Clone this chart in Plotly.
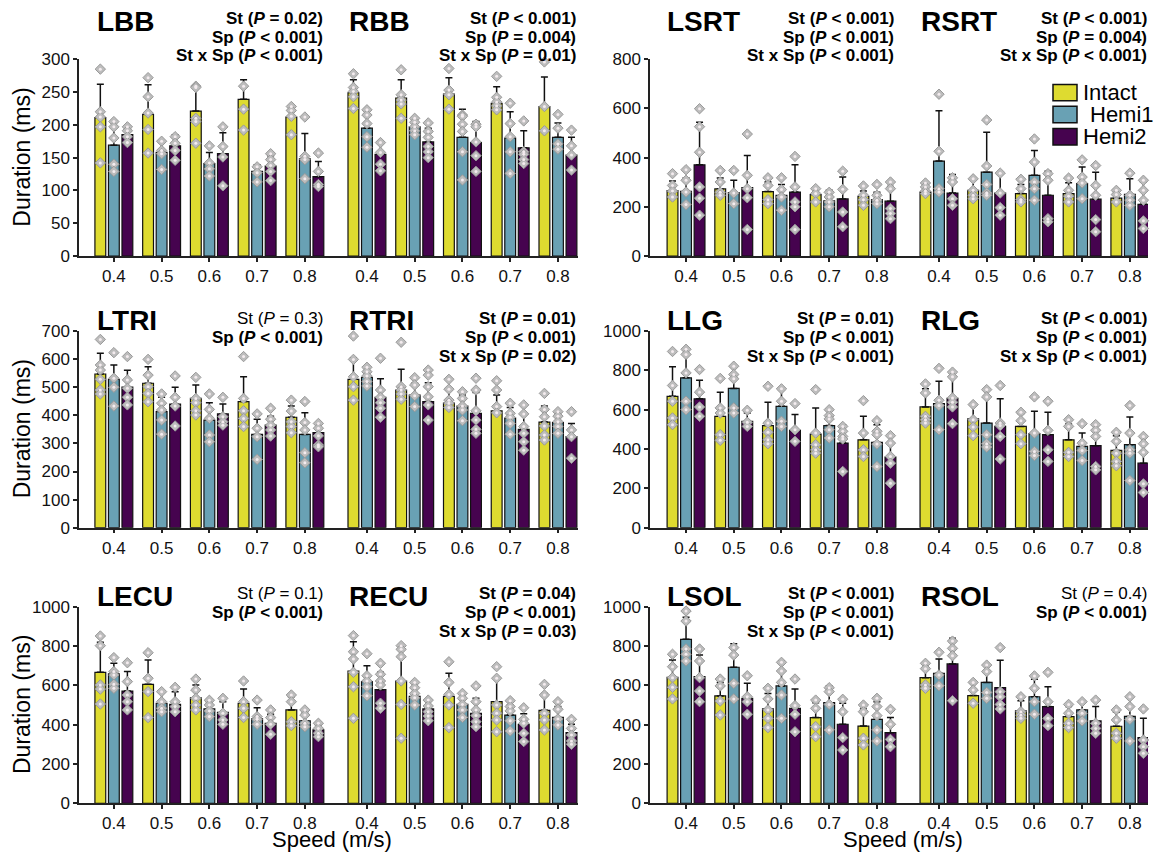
import plotly.graph_objects as go

SPEEDS = ["0.4", "0.5", "0.6", "0.7", "0.8"]
GROUPS = ["Intact", "Hemi1", "Hemi2"]
COLORS = ["#dedb30", "#69a1b4", "#46034f"]

# ---------------- data: [Intact, Hemi1, Hemi2] x speeds 0.4..0.8 ----------------
LBB_MEAN = [[211, 216, 221, 239, 212], [169, 158, 141, 129, 148], [185, 168, 156, 137, 121]]
LBB_SD = [[51, 45, 37, 30, 17], [35, 15, 17, 10, 39], [13, 17, 32, 16, 23]]
LBB_PTS = [
    [[285, 220, 212, 197, 142], [272, 243, 218, 193, 157], [259, 257, 210, 205, 172], [259, 224, 192], [228, 222, 213, 185]],
    [[205, 197, 180, 140, 129], [175, 161, 156, 132], [168, 142, 133, 122], [136, 127, 113], [212, 152, 147, 118]],
    [[197, 191, 182, 173], [182, 172, 161, 146], [197, 167, 151, 107], [156, 147, 138, 129, 115], [157, 129, 109, 106]],
]
RBB_MEAN = [[249, 241, 247, 233, 228], [195, 197, 181, 180, 181], [155, 174, 173, 165, 154]]
RBB_SD = [[20, 28, 25, 25, 45], [21, 12, 43, 40, 22], [19, 21, 32, 26, 27]]
RBB_PTS = [
    [[278, 257, 251, 243, 225], [284, 246, 238, 232, 210], [286, 253, 246, 224], [274, 242, 235, 229, 223], [296, 228, 191]],
    [[223, 215, 202, 182, 166], [210, 204, 197, 191, 185], [215, 213, 201, 190, 159, 116], [233, 202, 182, 159, 126], [216, 195, 171, 163]],
    [[173, 158, 140, 130], [203, 190, 181, 167, 159, 150], [201, 197, 174, 153, 129], [206, 159, 155, 147, 141], [192, 168, 154, 131]],
]
LSRT_MEAN = [[266, 273, 262, 250, 243], [263, 258, 247, 224, 229], [371, 278, 260, 232, 223]]
LSRT_SD = [[39, 44, 39, 24, 21], [54, 50, 44, 43, 30], [173, 131, 111, 89, 60]]
LSRT_PTS = [
    [[335, 287, 264, 240], [348, 301, 259, 247], [318, 287, 229, 213], [274, 254, 220], [285, 247, 229, 206]],
    [[351, 308, 260, 209], [348, 256, 213], [318, 270, 240, 186], [259, 240, 220, 200], [291, 247, 227, 213]],
    [[599, 526, 422, 281, 235, 166], [496, 328, 274, 237, 108], [405, 281, 220, 200, 108], [345, 271, 179, 119], [301, 274, 193, 173, 152]],
]
RSRT_MEAN = [[260, 267, 254, 254, 235], [386, 341, 328, 294, 251], [256, 256, 247, 231, 210]]
RSRT_SD = [[37, 43, 37, 44, 35], [205, 162, 101, 68, 63], [75, 81, 98, 110, 91]]
RSRT_PTS = [
    [[297, 281, 264, 254], [314, 267, 247, 233], [312, 274, 229, 220], [317, 267, 243, 220], [267, 250, 220]],
    [[658, 426, 274, 260], [553, 366, 291, 256, 247], [476, 382, 301, 274, 227], [391, 321, 297, 233], [337, 247, 227, 206]],
    [[318, 301, 233, 206], [337, 256, 197, 166], [335, 308, 152, 139], [368, 287, 247, 148, 99], [308, 267, 227, 143, 112]],
]
LTRI_MEAN = [[547, 514, 460, 449, 393], [528, 413, 383, 332, 332], [500, 440, 405, 365, 338]]
LTRI_SD = [[74, 59, 48, 88, 40], [51, 51, 62, 54, 77], [60, 60, 35, 32, 31]]
LTRI_PTS = [
    [[670, 579, 561, 528, 490, 476], [599, 543, 502, 478, 448], [535, 460, 445, 416, 401], [609, 460, 416, 389, 360], [454, 415, 377, 360, 338]],
    [[623, 532, 500, 433], [476, 443, 419, 383, 333], [476, 421, 389, 330, 306], [405, 354, 324, 243], [449, 374, 348, 267, 231]],
    [[609, 526, 496, 464, 437], [540, 464, 433, 362], [464, 395, 377, 365], [425, 386, 365, 348, 326], [371, 354, 327, 294, 288]],
]
RTRI_MEAN = [[528, 490, 443, 416, 376], [535, 472, 433, 390, 374], [464, 449, 407, 350, 324]]
RTRI_SD = [[77, 74, 47, 56, 57], [23, 42, 39, 38, 27], [66, 67, 74, 55, 47]]
RTRI_PTS = [
    [[682, 599, 537, 502, 454], [660, 502, 490, 476, 457], [528, 493, 454, 443, 428], [523, 490, 431, 409], [478, 421, 395, 362, 330, 312]],
    [[571, 555, 540, 520, 504], [534, 508, 470, 431], [484, 460, 433, 419, 381], [443, 407, 393, 371, 333], [413, 397, 377, 360, 336]],
    [[603, 490, 464, 445, 425, 393], [561, 543, 502, 466, 437, 383], [532, 490, 416, 383, 350, 336], [437, 405, 360, 336, 306, 276], [413, 348, 324, 247]],
]
LLG_MEAN = [[668, 566, 519, 476, 447], [762, 708, 617, 519, 434], [655, 541, 495, 430, 359]]
LLG_SD = [[150, 123, 119, 133, 119], [148, 110, 94, 85, 90], [95, 42, 80, 94, 110]]
LLG_PTS = [
    [[896, 723, 643, 558, 524], [759, 609, 583, 473, 444], [719, 532, 485, 447, 427], [702, 481, 422, 396, 379], [646, 481, 396, 362]],
    [[907, 881, 787, 643, 600], [821, 779, 757, 609, 583], [706, 643, 541, 515], [600, 570, 553, 498, 456], [544, 490, 473, 425, 311]],
    [[804, 689, 614, 566], [597, 536, 515], [631, 498, 439], [515, 490, 464, 451, 286], [468, 430, 362, 328, 226]],
]
RLG_MEAN = [[614, 553, 515, 447, 393], [631, 532, 478, 413, 422], [657, 515, 473, 417, 328]]
RLG_SD = [[92, 73, 65, 80, 75], [114, 136, 114, 68, 141], [110, 140, 114, 107, 136]]
RLG_PTS = [
    [[731, 685, 566, 549, 532], [626, 549, 512, 468], [587, 544, 473, 427], [549, 515, 383, 362], [485, 439, 379, 337, 315]],
    [[810, 648, 621, 498], [702, 665, 473, 427, 410], [665, 481, 388, 367], [529, 430, 393, 342], [621, 481, 396, 379, 240]],
    [[791, 767, 660, 638, 614, 529], [723, 532, 519, 464, 349], [643, 495, 396, 337], [524, 495, 464, 311, 294], [464, 427, 383, 223, 179]],
]
LECU_MEAN = [[666, 605, 537, 509, 475], [658, 509, 480, 429, 420], [571, 503, 463, 407, 373]]
LECU_SD = [[153, 124, 65, 72, 67], [54, 59, 34, 57, 38], [99, 65, 54, 46, 25]]
LECU_PTS = [
    [[851, 802, 602, 581, 505], [766, 636, 568, 436], [632, 576, 534, 500, 475], [622, 517, 483, 436], [551, 517, 415, 395]],
    [[741, 670, 653, 605, 585], [568, 517, 483, 466], [524, 500, 470, 441], [525, 441, 427, 402], [475, 449, 407, 390]],
    [[715, 619, 551, 517, 475], [590, 517, 492, 466], [534, 458, 424, 402], [475, 436, 402, 351], [407, 381, 356, 339]],
]
RECU_MEAN = [[673, 622, 544, 517, 473], [619, 544, 503, 449, 437], [578, 480, 458, 402, 359]]
RECU_SD = [[149, 180, 117, 122, 86], [81, 44, 56, 51, 55], [88, 45, 76, 54, 43]]
RECU_PTS = [
    [[853, 771, 734, 666, 593, 432], [802, 783, 746, 622, 503, 331], [720, 615, 554, 500, 385], [695, 636, 500, 458, 424, 364], [605, 551, 458, 424, 373]],
    [[761, 649, 622, 593, 547], [615, 588, 559, 537, 500], [559, 534, 503, 475, 437], [522, 492, 470, 420, 368], [517, 478, 429, 398]],
    [[712, 656, 622, 602, 509, 483], [525, 495, 466, 444, 420], [597, 517, 475, 446, 415, 390], [486, 427, 407, 356, 314], [427, 381, 348, 317, 300]],
]
LSOL_MEAN = [[641, 546, 480, 436, 393], [834, 692, 597, 512, 427], [644, 534, 483, 402, 359]]
LSOL_SD = [[88, 68, 79, 76, 87], [112, 120, 127, 85, 90], [110, 76, 98, 107, 77]]
LSOL_PTS = [
    [[758, 695, 639, 590, 531], [632, 597, 520, 449], [585, 531, 475, 432, 385], [525, 483, 390, 339], [500, 466, 331, 297]],
    [[978, 927, 785, 758, 724], [792, 754, 610, 531], [717, 673, 615, 551, 432], [588, 568, 503, 373], [534, 492, 446, 373, 317]],
    [[785, 724, 639, 571, 517], [649, 542, 517, 453], [632, 497, 453, 364], [529, 466, 334, 271], [478, 402, 325, 288]],
]
RSOL_MEAN = [[639, 548, 470, 441, 392], [661, 615, 542, 475, 442], [709, 588, 492, 419, 334]]
RSOL_SD = [[68, 62, 52, 51, 71], [73, 88, 89, 45, 100], [130, 139, 101, 73, 98]]
RSOL_PTS = [
    [[712, 685, 602, 585], [615, 576, 509], [542, 466, 449, 432], [503, 458, 407, 385], [475, 424, 356, 331]],
    [[768, 653, 598], [703, 670, 564, 534], [648, 585, 517, 453], [517, 458, 419], [542, 492, 427, 317]],
    [[825, 788, 751, 522], [792, 568, 542, 503, 480], [666, 517, 432, 395], [525, 407, 381, 356], [480, 322, 288, 254]],
]

LT = "&lt;"
STATS = {
    "LBB": [("St", "=", "0.02", True), ("Sp", LT, "0.001", True), ("St x Sp", LT, "0.001", True)],
    "RBB": [("St", LT, "0.001", True), ("Sp", "=", "0.004", True), ("St x Sp", "=", "0.01", True)],
    "LSRT": [("St", LT, "0.001", True), ("Sp", LT, "0.001", True), ("St x Sp", LT, "0.001", True)],
    "RSRT": [("St", LT, "0.001", True), ("Sp", "=", "0.004", True), ("St x Sp", LT, "0.001", True)],
    "LTRI": [("St", "=", "0.3", False), ("Sp", LT, "0.001", True)],
    "RTRI": [("St", "=", "0.01", True), ("Sp", LT, "0.001", True), ("St x Sp", "=", "0.02", True)],
    "LLG": [("St", "=", "0.01", True), ("Sp", LT, "0.001", True), ("St x Sp", LT, "0.001", True)],
    "RLG": [("St", LT, "0.001", True), ("Sp", LT, "0.001", True), ("St x Sp", LT, "0.001", True)],
    "LECU": [("St", "=", "0.1", False), ("Sp", LT, "0.001", True)],
    "RECU": [("St", "=", "0.04", True), ("Sp", LT, "0.001", True), ("St x Sp", "=", "0.03", True)],
    "LSOL": [("St", LT, "0.001", True), ("Sp", LT, "0.001", True), ("St x Sp", LT, "0.001", True)],
    "RSOL": [("St", "=", "0.4", False), ("Sp", LT, "0.001", True)],
}

MUSCLES = {
    "LBB": (LBB_MEAN, LBB_SD, LBB_PTS), "RBB": (RBB_MEAN, RBB_SD, RBB_PTS),
    "LSRT": (LSRT_MEAN, LSRT_SD, LSRT_PTS), "RSRT": (RSRT_MEAN, RSRT_SD, RSRT_PTS),
    "LTRI": (LTRI_MEAN, LTRI_SD, LTRI_PTS), "RTRI": (RTRI_MEAN, RTRI_SD, RTRI_PTS),
    "LLG": (LLG_MEAN, LLG_SD, LLG_PTS), "RLG": (RLG_MEAN, RLG_SD, RLG_PTS),
    "LECU": (LECU_MEAN, LECU_SD, LECU_PTS), "RECU": (RECU_MEAN, RECU_SD, RECU_PTS),
    "LSOL": (LSOL_MEAN, LSOL_SD, LSOL_PTS), "RSOL": (RSOL_MEAN, RSOL_SD, RSOL_PTS),
}
# pair: (left muscle, right muscle, y max, y tick step)
PAIRS = [("LBB", "RBB", 300, 50), ("LSRT", "RSRT", 800, 200),
         ("LTRI", "RTRI", 700, 100), ("LLG", "RLG", 1000, 200),
         ("LECU", "RECU", 1000, 200), ("LSOL", "RSOL", 1000, 200)]

# ---------------- layout geometry (pixels) ----------------
W, H = 1153, 853
FONT = "Liberation Sans, Arial, sans-serif"
AX = "#222222"
COL_X = [(79, 578), (650, 1148)]
ROW_Y = [(59.3, 256.0), (331.0, 527.7), (606.7, 803.3)]
XRANGE = [(-0.73, 9.72), (-0.755, 9.68)]
R_SHIFT = 5.3
BARGAP = 0.15
SLOT = (1 - BARGAP) / 3
LABEL_Y = [21.5, 320.5, 596.5]
STAT_Y = [[18.5, 37.2, 55.9], [318.8, 337.5, 356.2], [593.8, 612.5, 631.2]]
L_LABEL_X = [95, 665]
R_LABEL_X = [347, 919]
L_STAT_X = [324.5, 896]
R_STAT_X = [578, 1149]


def px(x):
    return x / W


def py(y):
    return 1 - y / H


fig = go.Figure()
annotations = []
shapes = []

for p, (lname, rname, ymax, dtick) in enumerate(PAIRS):
    row, col = divmod(p, 2)
    suffix = "" if p == 0 else str(p + 1)
    xref, yref = "x" + suffix, "y" + suffix
    lm, ls, lp = MUSCLES[lname]
    rm, rs, rp = MUSCLES[rname]
    xpos = list(range(5)) + [R_SHIFT + i for i in range(5)]
    for k in range(3):
        fig.add_trace(go.Bar(
            x=xpos, y=lm[k] + rm[k], name=GROUPS[k], showlegend=False,
            marker=dict(color=COLORS[k], line=dict(color="#111111", width=1.2)),
            error_y=dict(type="data", symmetric=False, array=ls[k] + rs[k],
                         arrayminus=[0] * 10, color="#111111", thickness=1.5, width=3.5),
            xaxis=xref, yaxis=yref, cliponaxis=False,
        ))
    for k in range(3):
        sx, sy = [], []
        for side, pts in ((0, lp), (R_SHIFT, rp)):
            for i in range(5):
                for v in pts[k][i]:
                    sx.append(side + i + (k - 1) * SLOT)
                    sy.append(v)
        fig.add_trace(go.Scatter(
            x=sx, y=sy, mode="markers", showlegend=False, hoverinfo="y",
            marker=dict(symbol="diamond", size=8, color="#bdbdbd",
                        line=dict(color="#999999", width=1)),
            xaxis=xref, yaxis=yref, cliponaxis=False,
        ))
        fig.add_trace(go.Scatter(
            x=sx, y=sy, mode="markers", showlegend=False, hoverinfo="skip",
            marker=dict(symbol="circle", size=3, color="#f4ecef", line=dict(width=0)),
            xaxis=xref, yaxis=yref, cliponaxis=False,
        ))

    x0, x1 = COL_X[col]
    y0, y1 = ROW_Y[row]
    axis_style = dict(showline=True, linecolor=AX, linewidth=1.5, ticks="outside",
                      ticklen=4, tickwidth=1.5, tickcolor=AX, showgrid=False,
                      zeroline=False, automargin=False,
                      tickfont=dict(size=17, color="#111111", family=FONT))
    fig.layout["xaxis" + suffix] = dict(
        domain=[px(x0), px(x1)], range=list(XRANGE[col]), anchor=yref,
        tickmode="array", tickvals=xpos, ticktext=SPEEDS + SPEEDS, **axis_style)
    fig.layout["yaxis" + suffix] = dict(
        domain=[py(y1), py(y0)], range=[0, ymax], dtick=dtick, tick0=0,
        anchor=xref, **axis_style)

    # panel labels
    for name, lx in ((lname, L_LABEL_X[col]), (rname, R_LABEL_X[col])):
        annotations.append(dict(text="<b>%s</b>" % name, x=px(lx), y=py(LABEL_Y[row]),
                                xref="paper", yref="paper", xanchor="left", yanchor="middle",
                                showarrow=False, font=dict(size=28, family=FONT, color="#000")))
    # statistics
    for name, sxp in ((lname, L_STAT_X[col]), (rname, R_STAT_X[col])):
        for j, (term, op, val, bold) in enumerate(STATS[name]):
            t = "%s (<i>P</i> %s %s)" % (term, op, val)
            if bold:
                t = "<b>%s</b>" % t
            annotations.append(dict(text=t, x=px(sxp), y=py(STAT_Y[row][j]),
                                    xref="paper", yref="paper", xanchor="right",
                                    yanchor="middle", showarrow=False,
                                    font=dict(size=17, family=FONT, color="#000")))

# axis titles
for row in range(3):
    y0, y1 = ROW_Y[row]
    annotations.append(dict(text="Duration (ms)", x=px(22), y=py((y0 + y1) / 2),
                            xref="paper", yref="paper", textangle=-90, showarrow=False,
                            xanchor="center", yanchor="middle",
                            font=dict(size=23, family=FONT, color="#000")))
for cx in (332, 903):
    annotations.append(dict(text="Speed (m/s)", x=px(cx), y=py(839.5), xref="paper",
                            yref="paper", showarrow=False, xanchor="center", yanchor="middle",
                            font=dict(size=22, family=FONT, color="#000")))

# legend (drawn manually inside the RSRT panel)
LEG_BOX_X = (1053, 1077)
LEG_ROWS = [(84.5, 100.7), (106.3, 122.7), (128.5, 145)]
LEG_TEXT_X = [1081, 1088, 1081]
for k in range(3):
    ya, yb = LEG_ROWS[k]
    shapes.append(dict(type="rect", xref="paper", yref="paper",
                       x0=px(LEG_BOX_X[0]), x1=px(LEG_BOX_X[1]), y0=py(yb), y1=py(ya),
                       fillcolor=COLORS[k], line=dict(color="#111111", width=1.5)))
    annotations.append(dict(text=GROUPS[k], x=px(LEG_TEXT_X[k]), y=py((ya + yb) / 2),
                            xref="paper", yref="paper", xanchor="left", yanchor="middle",
                            showarrow=False, font=dict(size=22, family=FONT, color="#000")))

fig.update_layout(
    width=W, height=H, margin=dict(l=0, r=0, t=0, b=0, pad=0, autoexpand=False),
    paper_bgcolor="white", plot_bgcolor="white",
    barmode="group", bargap=BARGAP, bargroupgap=0.2,
    annotations=annotations, shapes=shapes,
    font=dict(family=FONT, color="#000"),
    showlegend=False,
)
fig.write_html("out.html", config={"displayModeBar": False},
               post_script="document.body.style.margin='0';document.body.style.overflow='hidden';")
